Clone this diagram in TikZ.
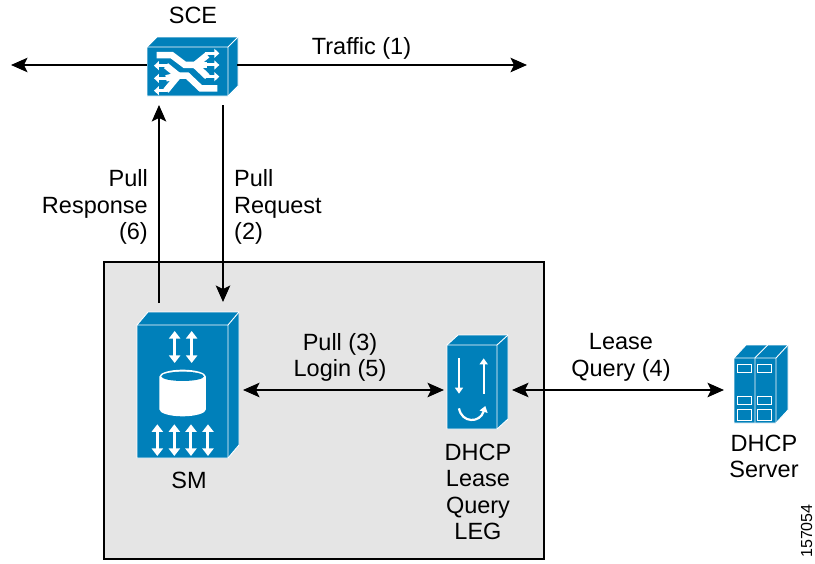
\documentclass[tikz,border=0pt]{standalone}
\usepackage{fontspec}
\setmainfont{Liberation Sans}
\usetikzlibrary{arrows.meta,calc}
\definecolor{ciscoblue}{HTML}{0080BA}
\definecolor{panelgray}{HTML}{E5E5E5}
\newcommand{\isobox}[6]{% x1 y1 x2 y2 dx dy : front face and depth
  \fill[ciscoblue,draw=white,line width=0.9pt,line join=round]
    (#1,#2) -- ({#1+#5},{#2-#6}) -- ({#3+#5},{#2-#6}) -- ({#3+#5},{#4-#6}) -- (#3,#4) -- (#1,#4) -- cycle;
  \draw[white,line width=0.9pt] (#1,#2) -- (#3,#2) -- (#3,#4) (#3,#2) -- ({#3+#5},{#2-#6});
}
\tikzset{
  x=1pt,y=-1pt,
  label text/.style={font=\fontsize{23.5}{26.4}\selectfont,inner sep=0pt,align=center},
  icon box/.style={inner sep=0pt,outer sep=0pt,minimum width=#1},
  flow/.style={line width=1.3pt,draw=black},
  one way/.style={flow,-{Stealth[length=16.5pt,width=14.5pt,inset=3.5pt]}},
  two way/.style={flow,{Stealth[length=16.5pt,width=14.5pt,inset=3.5pt]}-{Stealth[length=16.5pt,width=14.5pt,inset=3.5pt]}},
  ribbon/.style={draw=white,line width=6.5pt,line join=miter},
  whitearrow/.style={draw=white,line width=2.2pt,-{Triangle[length=6pt,width=8pt]}},
  gatearrow/.style={draw=white,line width=3pt,-{Triangle[length=5pt,width=9pt]}},
  whitedouble/.style={draw=white,line width=3pt,{Triangle[length=7.5pt,width=11pt]}-{Triangle[length=7.5pt,width=11pt]}},
  slot/.style={draw=white,line width=0.9pt,fill=ciscoblue},
  zoomed/.style={shift={(#1)},x=0.3333pt,y=-0.3333pt}
}
\begin{document}
\begin{tikzpicture}
\useasboundingbox (0,0) rectangle (815,563);
\fill[white] (0,0) rectangle (815,563);

% panel
\node[draw=black,line width=1.2pt,fill=panelgray,minimum width=440pt,minimum height=297pt,inner sep=0pt,outer sep=0pt] (panel) at (324,410.5) {};

% device outlines used as connector targets
\node[icon box=90pt,minimum height=59pt] (sce) at (192,66.5) {};
\node[icon box=102pt,minimum height=146pt] (sm) at (188,385) {};
\node[icon box=61pt,minimum height=94pt] (leg) at (477.5,382) {};
\node[icon box=54pt,minimum height=78pt] (server) at (761,384) {};

% SCE icon
\isobox{147}{47}{228}{96}{10}{10}
\begin{scope}[zoomed={130,25}]
  \draw[ribbon] (80,90) -- (125,90) -- (165,120) -- (195,120) -- (232,90);
  \draw[ribbon] (195,120) -- (232,120);
  \draw[ribbon] (195,120) -- (232,155);
  \draw[ribbon] (262,190) -- (212,190) -- (172,152) -- (145,152) -- (108,197);
  \draw[ribbon] (145,152) -- (108,122);
  \draw[ribbon] (145,152) -- (108,160);
  \draw[gatearrow] (225,85) -- (268,85);
  \draw[gatearrow] (225,120) -- (268,120);
  \draw[gatearrow] (225,155) -- (268,155);
  \draw[gatearrow] (112,122) -- (72,122);
  \draw[gatearrow] (112,160) -- (72,160);
  \draw[gatearrow] (112,197) -- (72,197);
\end{scope}

% SM icon
\isobox{137}{325}{228}{458}{11}{13}
\begin{scope}[zoomed={125,300}]
  \draw[whitedouble] (149,93) -- (149,189);
  \draw[whitedouble] (200,93) -- (200,189);
  \draw[whitedouble] (97,373) -- (97,468);
  \draw[whitedouble] (148,373) -- (148,468);
  \draw[whitedouble] (198,373) -- (198,468);
  \draw[whitedouble] (249,373) -- (249,468);
  \fill[white] (103,230) -- (103,328) arc[start angle=180,end angle=0,x radius=70,y radius=21] -- (243,230) arc[start angle=0,end angle=-180,x radius=70,y radius=21] -- cycle;
  \fill[ciscoblue] (173,229) ellipse[x radius=64,y radius=14];
\end{scope}

% LEG icon
\isobox{447}{345}{497}{429}{11}{10}
\begin{scope}[zoomed={435,325}]
  \draw[whitearrow] (72,100) -- (72,206);
  \draw[whitearrow] (146,206) -- (146,100);
  \draw[whitearrow] (72,250) .. controls (80,295) and (135,295) .. (151,243);
\end{scope}

% DHCP server icon
\isobox{734}{358}{776}{423}{12}{13}
\begin{scope}[zoomed={715,335}]
  \draw[white,line width=0.9pt] (120,68) -- (120,263) (120,68) -- (158,30);
  \foreach \xa in {67,127}{
    \foreach \ya/\yb in {87/112,183/208,223/255}{
      \draw[slot] (\xa,\ya) rectangle ({\xa+43},\yb);
    }
  }
\end{scope}

% free ends and rails for connectors
\coordinate (wan) at (11,65);
\coordinate (core) at (527,65);
\coordinate (pullUp) at (159,0);
\coordinate (pullDown) at (223,0);
\coordinate (bus) at (0,390);

% connectors
\draw[one way] (sce.west |- wan) -- (wan);
\draw[one way] (sce.east |- wan) -- (core);
\draw[one way,shorten <=9pt,shorten >=9pt] (pullUp |- sm.north) -- (pullUp |- sce.south);
\draw[one way,shorten <=9pt,shorten >=10pt] (pullDown |- sce.south) -- (pullDown |- sm.north);
\draw[two way,shorten <=4pt,shorten >=3pt] (sm.east |- bus) -- (leg.west |- bus);
\draw[two way,shorten <=4pt,shorten >=10pt] (leg.east |- bus) -- (server.west |- bus);

% labels
\node[label text] (lsce) at (193,15) {SCE};
\node[label text] (ltraffic) at (361.5,48.5) {Traffic (1)};
\node[label text,align=right,anchor=east] (lresp) at (148,207) {Pull\\Response\\(6)};
\node[label text,align=left,anchor=west] (lreq) at (234,207) {Pull\\Request\\(2)};
\node[label text] (lpull) at (340,357.5) {Pull (3)\\Login (5)};
\node[label text] (llease) at (621,357.5) {Lease\\Query (4)};
\node[label text] (lsm) at (189,480) {SM};
\node[label text] (lleg) at (478,492) {DHCP\\Lease\\Query\\LEG};
\node[label text] (lserver) at (764,456.5) {DHCP\\Server};
\node[font=\fontsize{16}{18}\selectfont,inner sep=0pt,rotate=90] (lid) at (806.5,531) {157054};
\end{tikzpicture}
\end{document}
